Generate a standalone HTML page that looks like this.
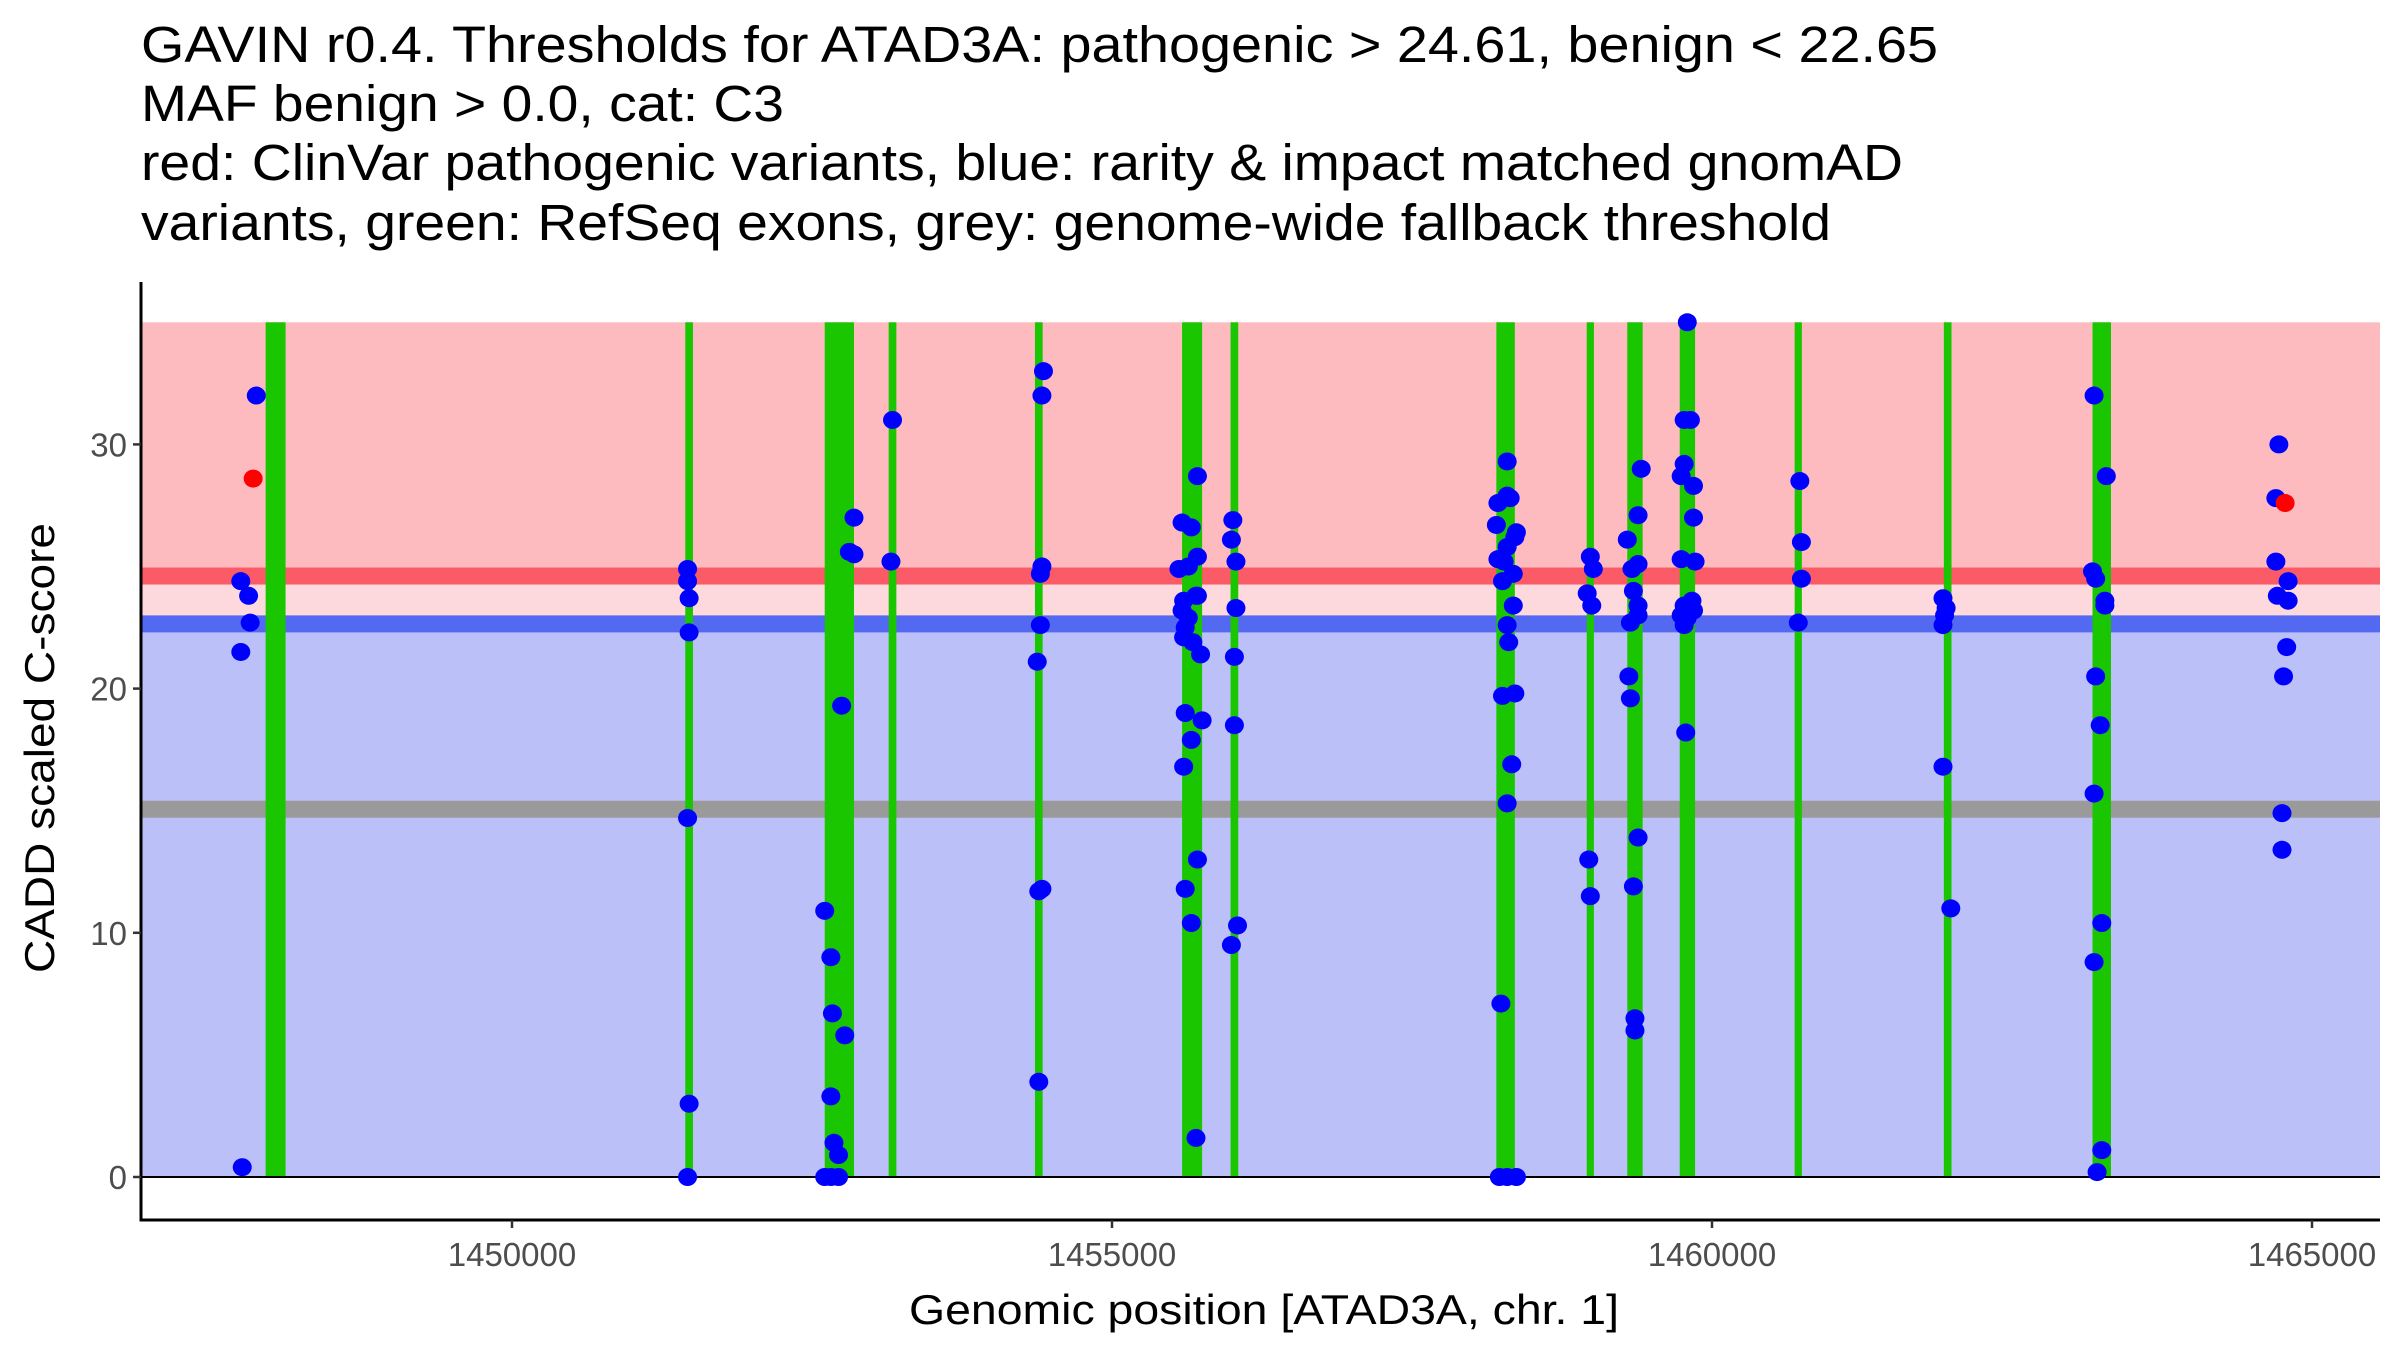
<!DOCTYPE html>
<html><head><meta charset="utf-8"><style>
html,body{margin:0;padding:0;background:#fff;}
svg{display:block;font-family:"Liberation Sans",Arial,sans-serif;}
</style></head><body>
<svg id="chart" width="2400" height="1350" viewBox="0 0 2400 1350" xmlns="http://www.w3.org/2000/svg">
<g font-size="51" fill="#000">
<text x="141" y="62" textLength="1797" lengthAdjust="spacingAndGlyphs">GAVIN r0.4. Thresholds for ATAD3A: pathogenic &gt; 24.61, benign &lt; 22.65</text>
<text x="141" y="121" textLength="643" lengthAdjust="spacingAndGlyphs">MAF benign &gt; 0.0, cat: C3</text>
<text x="141" y="180" textLength="1762" lengthAdjust="spacingAndGlyphs">red: ClinVar pathogenic variants, blue: rarity &amp; impact matched gnomAD</text>
<text x="141" y="240" textLength="1690" lengthAdjust="spacingAndGlyphs">variants, green: RefSeq exons, grey: genome-wide fallback threshold</text>
</g>
<g id="panel"></g>
<g id="axes"></g>
<text transform="translate(54,748) rotate(-90)" text-anchor="middle" font-size="42" fill="#000" textLength="450" lengthAdjust="spacingAndGlyphs">CADD scaled C-score</text>
<text x="1264" y="1324" text-anchor="middle" font-size="42" fill="#000" textLength="710" lengthAdjust="spacingAndGlyphs">Genomic position [ATAD3A, chr. 1]</text>
</svg>
<script>
const pathoThr = 24.61, benignThr = 22.65, fallbackThr = 15.06;
const exonStart = [1447947,1451444,1452606,1453139,1454358,1455584,1455988,1458203,1458956,1459294,1459731,1460689,1461932,1463171];
const exonEnd   = [1448113,1451508,1452850,1453203,1454422,1455751,1456052,1458357,1459016,1459422,1459859,1460749,1461996,1463325];
const benignX = [1447869,1447740,1447805,1447818,1447740,1447752,
 1451463,1451463,1451476,1451476,1451463,1451476,1451463,
 1452606,1452657,1452670,1452657,1452683,1452721,1452606,1452657,1452721,1452747,1452850,1452811,1452850,1452773,
 1453171,1453158,
 1454429,1454416,1454416,1454403,1454403,1454377,1454390,1454416,1454390,
 1455712,1455584,1455661,1455712,1455636,1455558,1455712,1455700,1455597,1455584,1455636,1455610,1455597,1455674,1455738,1455610,1455661,1455751,1455597,1455712,1455610,1455661,1455700,
 1456007,1455995,1456033,1456033,1456020,1456020,1456046,1455995,
 1458293,1458293,1458216,1458318,1458203,1458370,1458357,1458293,1458216,1458267,1458344,1458254,1458344,1458293,1458306,1458357,1458254,1458331,1458293,1458241,1458228,1458293,1458370,
 1458986,1459011,1458960,1458998,1458973,1458986,
 1459294,1459410,1459384,1459333,1459384,1459345,1459384,1459320,1459384,1459307,1459320,1459384,1459345,1459358,1459358,
 1459794,1459768,1459820,1459768,1459743,1459846,1459846,1459743,1459859,1459833,1459768,1459846,1459743,1459794,1459768,1459781,
 1460732,1460745,1460745,1460719,
 1461925,1461951,1461938,1461925,1461925,1461990,
 1463184,1463286,1463171,1463197,1463274,1463274,1463197,1463235,1463184,1463248,1463184,1463248,1463209,
 1464724,1464699,1464699,1464801,1464711,1464801,1464789,1464763,1464750,1464750];
const benignY = [32.0,24.4,23.8,22.7,21.5,0.4,
 24.9,24.4,23.7,22.3,14.7,3.0,0.0,
 10.9,9.0,6.7,3.3,1.4,0.9,0.0,0.0,0.0,19.3,27.0,25.6,25.5,5.8,
 31.0,25.2,
 33.0,32.0,25.0,24.7,22.6,21.1,11.7,11.8,3.9,
 28.7,26.8,26.6,25.4,25.0,24.9,23.8,23.8,23.6,23.2,22.9,22.5,22.1,21.9,21.4,19.0,17.9,18.7,16.8,13.0,11.8,10.4,1.6,
 26.9,26.1,25.2,23.3,21.3,18.5,10.3,9.5,
 29.3,27.9,27.6,27.8,26.7,26.4,26.2,25.8,25.3,25.2,24.7,24.4,23.4,22.6,21.9,19.8,19.7,16.9,15.3,7.1,0.0,0.0,0.0,
 25.4,24.9,23.9,23.4,13.0,11.5,
 26.1,29.0,27.1,24.9,25.1,24.0,23.4,22.7,23.0,20.5,19.6,13.9,11.9,6.5,6.0,
 35.0,31.0,31.0,29.2,28.7,28.3,27.0,25.3,25.2,23.6,23.4,23.2,23.0,22.9,22.6,18.2,
 28.5,26.0,24.5,22.7,
 23.7,23.3,23.0,22.6,16.8,11.0,
 32.0,28.7,24.8,24.5,23.6,23.4,20.5,18.5,15.7,10.4,8.8,1.1,0.2,
 30.0,27.8,25.2,24.4,23.8,23.6,21.7,20.5,14.9,13.4];
const pathoX = [1447843,1464776];
const pathoY = [28.6,27.6];
const xTicks = [1450000,1455000,1460000,1465000];
const yTicks = [0,10,20,30];

const NS="http://www.w3.org/2000/svg";
const L=141,R=2380,T=322,B=1220;
const yMax=35;
function sx(v){return 512+(v-1450000)*0.12;}
function sy(v){return 1177-v*24.42;}
function mk(parent,tag,attrs){const e=document.createElementNS(NS,tag);for(const k in attrs)e.setAttribute(k,attrs[k]);parent.appendChild(e);return e;}
const panel=document.getElementById('panel');
const axes=document.getElementById('axes');
let r;
r=mk(panel,'rect',{x:L,y:sy(yMax),width:R-L,height:sy(pathoThr)-sy(yMax),fill:'#fdbbc0'});


r=mk(panel,'rect',{x:L,y:sy(pathoThr),width:R-L,height:sy(benignThr)-sy(pathoThr),fill:'#fdd8dc'});


r=mk(panel,'rect',{x:L,y:sy(benignThr),width:R-L,height:sy(0)-sy(benignThr),fill:'#bbc0f8'});


r=mk(panel,'rect',{x:L,y:sy(pathoThr)-8.5,width:R-L,height:17,fill:'#fb5a67'});


r=mk(panel,'rect',{x:L,y:sy(benignThr)-8.5,width:R-L,height:17,fill:'#5469f2'});


r=mk(panel,'rect',{x:L,y:sy(fallbackThr)-8.5,width:R-L,height:17,fill:'#9a9a9a'});


for(let i=0;i<exonStart.length;i++){
  const x0=sx(exonStart[i]),x1=sx(exonEnd[i]);
  const e=mk(panel,'rect',{x:x0,y:sy(yMax),width:Math.max(7,x1-x0),height:sy(0)-sy(yMax),fill:'#19c600'});
  
  
}
r=mk(panel,'line',{x1:L,x2:R,y1:sy(0),y2:sy(0),stroke:'#000','stroke-width':2});


for(let i=0;i<benignX.length;i++){
  const c=mk(panel,'ellipse',{cx:sx(benignX[i]),cy:sy(benignY[i]),rx:9.5,ry:9,fill:'#0000ff'});
  
  
}
for(let i=0;i<pathoX.length;i++){
  const c=mk(panel,'ellipse',{cx:sx(pathoX[i]),cy:sy(pathoY[i]),rx:9.5,ry:9,fill:'#ff0000'});
  
  
}
r=mk(axes,'line',{x1:L,x2:L,y1:282,y2:B+1.5,stroke:'#000','stroke-width':3});


r=mk(axes,'line',{x1:L-1.5,x2:R,y1:B,y2:B,stroke:'#000','stroke-width':3});


for(const v of yTicks){
  const y=sy(v);
  const t=mk(axes,'line',{x1:L-8,x2:L,y1:y,y2:y,stroke:'#333','stroke-width':2.5});
  
  
  const lb=mk(axes,'text',{x:L-14,y:y+12,'text-anchor':'end','font-size':33,fill:'#4d4d4d'});
  lb.textContent=v;
  
  
}
for(const v of xTicks){
  const x=sx(v);
  const t=mk(axes,'line',{x1:x,x2:x,y1:B,y2:B+8,stroke:'#333','stroke-width':2.5});
  
  
  const lb=mk(axes,'text',{x:x,y:B+46,'text-anchor':'middle','font-size':33,fill:'#4d4d4d'});
  lb.textContent=v;
  
  
}
</script>
</body></html>
